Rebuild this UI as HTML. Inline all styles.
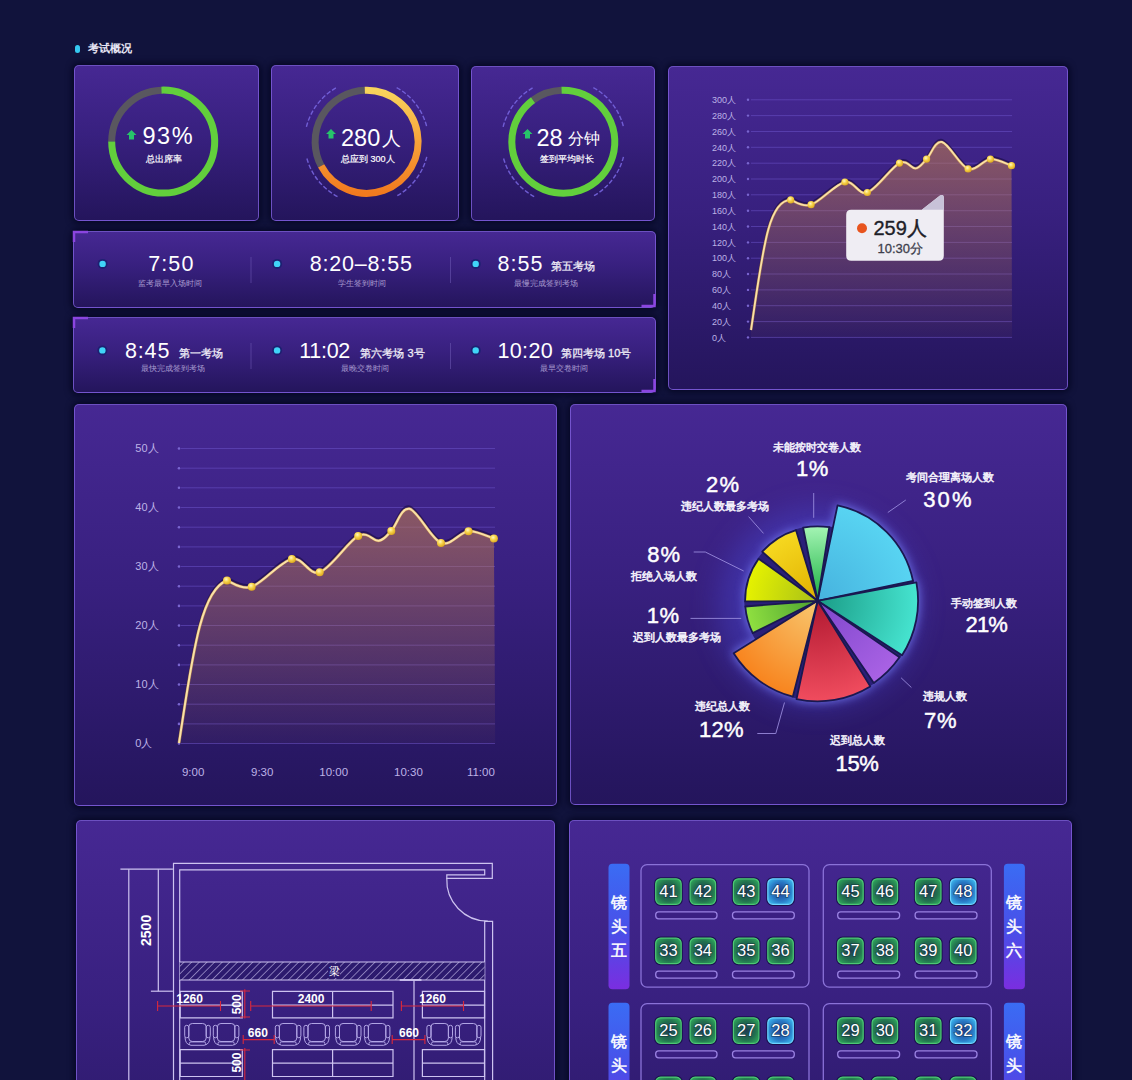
<!DOCTYPE html>
<html><head><meta charset="utf-8">
<style>
*{margin:0;padding:0;box-sizing:border-box}
html,body{width:1132px;height:1080px;overflow:hidden;background:#11133c;font-family:"Liberation Sans",sans-serif;color:#fff}
.p{position:absolute;border-radius:5px;background:linear-gradient(180deg,#462893 0%,#38207f 45%,#24155c 100%);border:1px solid rgba(132,100,225,.75);box-shadow:0 0 6px 2px rgba(3,4,30,.8)}
.t{position:absolute;white-space:nowrap;line-height:1}
svg{position:absolute;left:0;top:0}
svg text{font-family:"Liberation Sans",sans-serif}
</style></head><body>

<div style="position:absolute;left:75px;top:45px;width:5px;height:8px;border-radius:3px;background:#35c8f0"></div>
<div class="t" style="left:88px;top:42.5px;font-size:11px;font-weight:bold;color:#e8e6f4">考试概况</div>
<div class="p" style="left:74px;top:65px;width:185px;height:156px"></div>
<div class="p" style="left:271px;top:65px;width:188px;height:156px"></div>
<div class="p" style="left:471px;top:66px;width:184px;height:155px"></div>
<div class="p" style="left:668px;top:66px;width:400px;height:324px"></div>
<div class="p" style="left:73px;top:231px;width:583px;height:77px"></div>
<div class="p" style="left:73px;top:317px;width:583px;height:76px"></div>
<div class="p" style="left:74px;top:404px;width:483px;height:402px"></div>
<div class="p" style="left:570px;top:404px;width:497px;height:401px"></div>
<div class="p" style="left:76px;top:820px;width:479px;height:420px"></div>
<div class="p" style="left:569px;top:820px;width:503px;height:420px"></div>
<svg width="1132" height="1080" viewBox="0 0 1132 1080">
<defs>
<linearGradient id="gOr" x1="0" y1="0" x2="0" y2="1"><stop offset="0" stop-color="#f8d45c"/><stop offset="0.5" stop-color="#f7a23a"/><stop offset="1" stop-color="#f27a1e"/></linearGradient>
<linearGradient id="gFill" x1="0" y1="0" x2="0" y2="1"><stop offset="0" stop-color="#c88248" stop-opacity=".55"/><stop offset="1" stop-color="#c88248" stop-opacity=".04"/></linearGradient>
<radialGradient id="gDot" cx=".4" cy=".35" r=".7"><stop offset="0" stop-color="#fff6c0"/><stop offset=".45" stop-color="#f7d34a"/><stop offset="1" stop-color="#d9a21c"/></radialGradient>
<filter id="glow" x="-20%" y="-20%" width="140%" height="140%"><feGaussianBlur stdDeviation="1.2"/></filter>
</defs>
<path d="M111.70,141.60 A51.5,51.5 0 0 1 161.40,90.13" stroke="#59575f" stroke-width="7" fill="none"/>
<path d="M161.40,90.13 A51.5,51.5 0 1 1 111.70,141.60" stroke="#62cf3c" stroke-width="7" fill="none"/>
<path d="M321.13,165.98 A51.5,51.5 0 0 1 364.80,90.33" stroke="#59575f" stroke-width="7" fill="none"/>
<path d="M364.80,90.33 A51.5,51.5 0 1 1 321.13,165.98" stroke="url(#gOr)" stroke-width="7" fill="none"/>
<path d="M306.44,126.80 A62,62 0 0 1 336.54,87.57" stroke="#7a68e4" stroke-width="1.4" fill="none" stroke-dasharray="4.5 2" opacity=".85"/>
<path d="M396.66,87.57 A62,62 0 0 1 426.76,126.80" stroke="#7a68e4" stroke-width="1.4" fill="none" stroke-dasharray="4.5 2" opacity=".85"/>
<path d="M337.49,196.54 A62,62 0 0 1 306.44,156.80" stroke="#7a68e4" stroke-width="1.4" fill="none" stroke-dasharray="4.5 2" opacity=".85"/>
<path d="M426.76,156.80 A62,62 0 0 1 395.71,196.54" stroke="#7a68e4" stroke-width="1.4" fill="none" stroke-dasharray="4.5 2" opacity=".85"/>
<path d="M533.03,100.14 A51.5,51.5 0 0 1 561.50,90.33" stroke="#59575f" stroke-width="7" fill="none"/>
<path d="M561.50,90.33 A51.5,51.5 0 1 1 533.03,100.14" stroke="#62cf3c" stroke-width="7" fill="none"/>
<path d="M503.14,126.80 A62,62 0 0 1 533.24,87.57" stroke="#7a68e4" stroke-width="1.4" fill="none" stroke-dasharray="4.5 2" opacity=".85"/>
<path d="M593.36,87.57 A62,62 0 0 1 623.46,126.80" stroke="#7a68e4" stroke-width="1.4" fill="none" stroke-dasharray="4.5 2" opacity=".85"/>
<path d="M534.19,196.54 A62,62 0 0 1 503.14,156.80" stroke="#7a68e4" stroke-width="1.4" fill="none" stroke-dasharray="4.5 2" opacity=".85"/>
<path d="M623.46,156.80 A62,62 0 0 1 592.41,196.54" stroke="#7a68e4" stroke-width="1.4" fill="none" stroke-dasharray="4.5 2" opacity=".85"/>
<path d="M131.5,130 L136.5,135 L134.0,135 L134.0,139.5 L129.0,139.5 L129.0,135 L126.5,135 Z" fill="#27c46a"/>
<path d="M331,129 L336,134 L333.5,134 L333.5,138.5 L328.5,138.5 L328.5,134 L326,134 Z" fill="#27c46a"/>
<path d="M527.5,129 L532.5,134 L530.0,134 L530.0,138.5 L525.0,138.5 L525.0,134 L522.5,134 Z" fill="#27c46a"/>
<text x="142.5" y="144.3" font-size="23.5" fill="#fff" text-anchor="start" font-weight="normal" letter-spacing="1.5">93%</text>
<text x="146" y="162" font-size="9" fill="#fff" text-anchor="start" font-weight="normal" stroke="#fff" stroke-width="0.2">总出席率</text>
<text x="341" y="145.5" font-size="23.5" fill="#fff" text-anchor="start" font-weight="normal" >280</text>
<text x="381.5" y="144.5" font-size="19" fill="#fff" text-anchor="start" font-weight="normal" >人</text>
<text x="341" y="162" font-size="9" fill="#fff" text-anchor="start" font-weight="normal" stroke="#fff" stroke-width="0.2">总应到 300人</text>
<text x="536.5" y="145.5" font-size="23.5" fill="#fff" text-anchor="start" font-weight="normal" >28</text>
<text x="568" y="143.5" font-size="16" fill="#fff" text-anchor="start" font-weight="normal" >分钟</text>
<text x="540" y="162" font-size="8.6" fill="#fff" text-anchor="start" font-weight="normal" stroke="#fff" stroke-width="0.2">签到平均时长</text>
<circle cx="102.6" cy="263.9" r="5" fill="#16206e" opacity=".8"/>
<circle cx="102.6" cy="263.9" r="3.2" fill="#40d4f8"/>
<text x="148.2" y="271.0" font-size="21.5" fill="#fff" text-anchor="start" font-weight="normal" letter-spacing="1.1">7:50</text>
<text x="170.4" y="285.6" font-size="8.2" fill="#a99cd0" text-anchor="middle" font-weight="normal" >监考最早入场时间</text>
<circle cx="277.1" cy="263.9" r="5" fill="#16206e" opacity=".8"/>
<circle cx="277.1" cy="263.9" r="3.2" fill="#40d4f8"/>
<text x="309.8" y="271.0" font-size="21.5" fill="#fff" text-anchor="start" font-weight="normal" letter-spacing="0.8">8:20–8:55</text>
<text x="362" y="285.6" font-size="8.2" fill="#a99cd0" text-anchor="middle" font-weight="normal" >学生签到时间</text>
<circle cx="475.7" cy="263.9" r="5" fill="#16206e" opacity=".8"/>
<circle cx="475.7" cy="263.9" r="3.2" fill="#40d4f8"/>
<text x="497.6" y="271.0" font-size="21.5" fill="#fff" text-anchor="start" font-weight="normal" letter-spacing="1.0">8:55</text>
<text x="551.3" y="270.3" font-size="11" fill="#f0eef8" text-anchor="start" font-weight="normal" stroke="#f0eef8" stroke-width="0.28">第五考场</text>
<text x="546" y="285.6" font-size="8.2" fill="#a99cd0" text-anchor="middle" font-weight="normal" >最慢完成签到考场</text>
<circle cx="102.4" cy="350.4" r="5" fill="#16206e" opacity=".8"/>
<circle cx="102.4" cy="350.4" r="3.2" fill="#40d4f8"/>
<text x="124.9" y="357.5" font-size="21.5" fill="#fff" text-anchor="start" font-weight="normal" letter-spacing="0.9">8:45</text>
<text x="178.6" y="356.8" font-size="11" fill="#f0eef8" text-anchor="start" font-weight="normal" stroke="#f0eef8" stroke-width="0.28">第一考场</text>
<text x="173.2" y="371.2" font-size="8.2" fill="#a99cd0" text-anchor="middle" font-weight="normal" >最快完成签到考场</text>
<circle cx="277.1" cy="350.4" r="5" fill="#16206e" opacity=".8"/>
<circle cx="277.1" cy="350.4" r="3.2" fill="#40d4f8"/>
<text x="299.3" y="357.5" font-size="21.5" fill="#fff" text-anchor="start" font-weight="normal" letter-spacing="-0.3">11:02</text>
<text x="360.4" y="356.8" font-size="11" fill="#f0eef8" text-anchor="start" font-weight="normal" stroke="#f0eef8" stroke-width="0.28">第六考场 3号</text>
<text x="365.2" y="371.2" font-size="8.2" fill="#a99cd0" text-anchor="middle" font-weight="normal" >最晚交卷时间</text>
<circle cx="475.7" cy="350.4" r="5" fill="#16206e" opacity=".8"/>
<circle cx="475.7" cy="350.4" r="3.2" fill="#40d4f8"/>
<text x="497.6" y="357.5" font-size="21.5" fill="#fff" text-anchor="start" font-weight="normal" letter-spacing="0.3">10:20</text>
<text x="561" y="356.8" font-size="11" fill="#f0eef8" text-anchor="start" font-weight="normal" stroke="#f0eef8" stroke-width="0.28">第四考场 10号</text>
<text x="563.7" y="371.2" font-size="8.2" fill="#a99cd0" text-anchor="middle" font-weight="normal" >最早交卷时间</text>
<line x1="251" y1="257" x2="251" y2="283" stroke="#6a55b0" stroke-width="1" opacity=".6"/>
<line x1="251" y1="343" x2="251" y2="369" stroke="#6a55b0" stroke-width="1" opacity=".6"/>
<line x1="450.5" y1="257" x2="450.5" y2="283" stroke="#6a55b0" stroke-width="1" opacity=".6"/>
<line x1="450.5" y1="343" x2="450.5" y2="369" stroke="#6a55b0" stroke-width="1" opacity=".6"/>
<path d="M74,242 L74,232 L88,232" stroke="#8b45e0" stroke-width="2.5" fill="none"/>
<path d="M74,328 L74,318 L88,318" stroke="#8b45e0" stroke-width="2.5" fill="none"/>
<path d="M641.5,306 L654.5,306 L654.5,294" stroke="#8b45e0" stroke-width="2.5" fill="none"/>
<path d="M641.5,391 L654.5,391 L654.5,379" stroke="#8b45e0" stroke-width="2.5" fill="none"/>
<line x1="751" y1="99.8" x2="1012" y2="99.8" stroke="#6a52c8" stroke-width="1" opacity=".55"/>
<circle cx="748" cy="99.8" r="1.2" fill="#7a66d0"/>
<text x="712" y="103.0" font-size="9" fill="#bdb2e6" text-anchor="start" font-weight="normal" >300人</text>
<line x1="751" y1="115.6" x2="1012" y2="115.6" stroke="#6a52c8" stroke-width="1" opacity=".55"/>
<circle cx="748" cy="115.6" r="1.2" fill="#7a66d0"/>
<text x="712" y="118.84" font-size="9" fill="#bdb2e6" text-anchor="start" font-weight="normal" >280人</text>
<line x1="751" y1="131.5" x2="1012" y2="131.5" stroke="#6a52c8" stroke-width="1" opacity=".55"/>
<circle cx="748" cy="131.5" r="1.2" fill="#7a66d0"/>
<text x="712" y="134.67999999999998" font-size="9" fill="#bdb2e6" text-anchor="start" font-weight="normal" >260人</text>
<line x1="751" y1="147.3" x2="1012" y2="147.3" stroke="#6a52c8" stroke-width="1" opacity=".55"/>
<circle cx="748" cy="147.3" r="1.2" fill="#7a66d0"/>
<text x="712" y="150.51999999999998" font-size="9" fill="#bdb2e6" text-anchor="start" font-weight="normal" >240人</text>
<line x1="751" y1="163.2" x2="1012" y2="163.2" stroke="#6a52c8" stroke-width="1" opacity=".55"/>
<circle cx="748" cy="163.2" r="1.2" fill="#7a66d0"/>
<text x="712" y="166.35999999999999" font-size="9" fill="#bdb2e6" text-anchor="start" font-weight="normal" >220人</text>
<line x1="751" y1="179.0" x2="1012" y2="179.0" stroke="#6a52c8" stroke-width="1" opacity=".55"/>
<circle cx="748" cy="179.0" r="1.2" fill="#7a66d0"/>
<text x="712" y="182.2" font-size="9" fill="#bdb2e6" text-anchor="start" font-weight="normal" >200人</text>
<line x1="751" y1="194.8" x2="1012" y2="194.8" stroke="#6a52c8" stroke-width="1" opacity=".55"/>
<circle cx="748" cy="194.8" r="1.2" fill="#7a66d0"/>
<text x="712" y="198.03999999999996" font-size="9" fill="#bdb2e6" text-anchor="start" font-weight="normal" >180人</text>
<line x1="751" y1="210.7" x2="1012" y2="210.7" stroke="#6a52c8" stroke-width="1" opacity=".55"/>
<circle cx="748" cy="210.7" r="1.2" fill="#7a66d0"/>
<text x="712" y="213.88" font-size="9" fill="#bdb2e6" text-anchor="start" font-weight="normal" >160人</text>
<line x1="751" y1="226.5" x2="1012" y2="226.5" stroke="#6a52c8" stroke-width="1" opacity=".55"/>
<circle cx="748" cy="226.5" r="1.2" fill="#7a66d0"/>
<text x="712" y="229.71999999999997" font-size="9" fill="#bdb2e6" text-anchor="start" font-weight="normal" >140人</text>
<line x1="751" y1="242.4" x2="1012" y2="242.4" stroke="#6a52c8" stroke-width="1" opacity=".55"/>
<circle cx="748" cy="242.4" r="1.2" fill="#7a66d0"/>
<text x="712" y="245.56" font-size="9" fill="#bdb2e6" text-anchor="start" font-weight="normal" >120人</text>
<line x1="751" y1="258.2" x2="1012" y2="258.2" stroke="#6a52c8" stroke-width="1" opacity=".55"/>
<circle cx="748" cy="258.2" r="1.2" fill="#7a66d0"/>
<text x="712" y="261.4" font-size="9" fill="#bdb2e6" text-anchor="start" font-weight="normal" >100人</text>
<line x1="751" y1="274.0" x2="1012" y2="274.0" stroke="#6a52c8" stroke-width="1" opacity=".55"/>
<circle cx="748" cy="274.0" r="1.2" fill="#7a66d0"/>
<text x="712" y="277.24" font-size="9" fill="#bdb2e6" text-anchor="start" font-weight="normal" >80人</text>
<line x1="751" y1="289.9" x2="1012" y2="289.9" stroke="#6a52c8" stroke-width="1" opacity=".55"/>
<circle cx="748" cy="289.9" r="1.2" fill="#7a66d0"/>
<text x="712" y="293.08" font-size="9" fill="#bdb2e6" text-anchor="start" font-weight="normal" >60人</text>
<line x1="751" y1="305.7" x2="1012" y2="305.7" stroke="#6a52c8" stroke-width="1" opacity=".55"/>
<circle cx="748" cy="305.7" r="1.2" fill="#7a66d0"/>
<text x="712" y="308.91999999999996" font-size="9" fill="#bdb2e6" text-anchor="start" font-weight="normal" >40人</text>
<line x1="751" y1="321.6" x2="1012" y2="321.6" stroke="#6a52c8" stroke-width="1" opacity=".55"/>
<circle cx="748" cy="321.6" r="1.2" fill="#7a66d0"/>
<text x="712" y="324.76" font-size="9" fill="#bdb2e6" text-anchor="start" font-weight="normal" >20人</text>
<line x1="751" y1="337.4" x2="1012" y2="337.4" stroke="#6a52c8" stroke-width="1" opacity=".55"/>
<circle cx="748" cy="337.4" r="1.2" fill="#7a66d0"/>
<text x="712" y="340.59999999999997" font-size="9" fill="#bdb2e6" text-anchor="start" font-weight="normal" >0人</text>
<path d="M751,330 C763,250 768,200 790.7,199.8  C794.10,200.62 802.07,207.67 811.10,204.70 C820.13,201.73 835.53,184.03 844.90,182.00 C854.27,179.97 858.20,195.65 867.30,192.50 C876.40,189.35 891.45,167.12 899.50,163.10 C907.55,159.08 911.08,169.07 915.60,168.40 C920.12,167.73 922.20,163.50 926.60,159.10 C931.00,154.70 935.08,140.37 942.00,142.00 C948.92,143.63 960.03,166.05 968.10,168.90 C976.17,171.75 983.17,159.63 990.40,159.10 C997.63,158.57 1007.98,164.60 1011.50,165.70 L1012,337.4 L751,337.4 Z" fill="url(#gFill)"/>
<path d="M751,330 C763,250 768,200 790.7,199.8  C794.10,200.62 802.07,207.67 811.10,204.70 C820.13,201.73 835.53,184.03 844.90,182.00 C854.27,179.97 858.20,195.65 867.30,192.50 C876.40,189.35 891.45,167.12 899.50,163.10 C907.55,159.08 911.08,169.07 915.60,168.40 C920.12,167.73 922.20,163.50 926.60,159.10 C931.00,154.70 935.08,140.37 942.00,142.00 C948.92,143.63 960.03,166.05 968.10,168.90 C976.17,171.75 983.17,159.63 990.40,159.10 C997.63,158.57 1007.98,164.60 1011.50,165.70" stroke="#140a3c" stroke-width="2.6" fill="none" opacity=".55" transform="translate(0,-1.8)"/>
<path d="M751,330 C763,250 768,200 790.7,199.8  C794.10,200.62 802.07,207.67 811.10,204.70 C820.13,201.73 835.53,184.03 844.90,182.00 C854.27,179.97 858.20,195.65 867.30,192.50 C876.40,189.35 891.45,167.12 899.50,163.10 C907.55,159.08 911.08,169.07 915.60,168.40 C920.12,167.73 922.20,163.50 926.60,159.10 C931.00,154.70 935.08,140.37 942.00,142.00 C948.92,143.63 960.03,166.05 968.10,168.90 C976.17,171.75 983.17,159.63 990.40,159.10 C997.63,158.57 1007.98,164.60 1011.50,165.70" stroke="#e9a84a" stroke-width="2.8" fill="none" opacity=".6"/>
<path d="M751,330 C763,250 768,200 790.7,199.8  C794.10,200.62 802.07,207.67 811.10,204.70 C820.13,201.73 835.53,184.03 844.90,182.00 C854.27,179.97 858.20,195.65 867.30,192.50 C876.40,189.35 891.45,167.12 899.50,163.10 C907.55,159.08 911.08,169.07 915.60,168.40 C920.12,167.73 922.20,163.50 926.60,159.10 C931.00,154.70 935.08,140.37 942.00,142.00 C948.92,143.63 960.03,166.05 968.10,168.90 C976.17,171.75 983.17,159.63 990.40,159.10 C997.63,158.57 1007.98,164.60 1011.50,165.70" stroke="#fae2a6" stroke-width="1.8" fill="none"/>
<circle cx="790.7" cy="199.8" r="3.6" fill="url(#gDot)"/>
<circle cx="811.1" cy="204.7" r="3.6" fill="url(#gDot)"/>
<circle cx="844.9" cy="182" r="3.6" fill="url(#gDot)"/>
<circle cx="867.3" cy="192.5" r="3.6" fill="url(#gDot)"/>
<circle cx="899.5" cy="163.1" r="3.6" fill="url(#gDot)"/>
<circle cx="926.6" cy="159.1" r="3.6" fill="url(#gDot)"/>
<circle cx="968.1" cy="168.9" r="3.6" fill="url(#gDot)"/>
<circle cx="990.4" cy="159.1" r="3.6" fill="url(#gDot)"/>
<circle cx="1011.5" cy="165.7" r="3.6" fill="url(#gDot)"/>
<path d="M851,209.7 L921.8,209.7 L940,195.5 Q943.8,193.5 943.8,198 L943.8,255.7 Q943.8,260.7 938.8,260.7 L851.2,260.7 Q846.2,260.7 846.2,255.7 L846.2,214.7 Q846.2,209.7 851.2,209.7 Z" fill="#efedf3"/>
<path d="M921.8,209.7 L940,195.5 Q943.8,193.5 943.8,198 L943.8,209.7 Z" fill="#c8c2d8"/>
<circle cx="862" cy="228.2" r="5" fill="#e8541e"/>
<text x="873.5" y="235.2" font-size="20" fill="#1e1e28" text-anchor="start" font-weight="normal" stroke="#1e1e28" stroke-width="0.35">259人</text>
<text x="877.5" y="252.5" font-size="13" fill="#3e3e4c" text-anchor="start" font-weight="normal" stroke="#3e3e4c" stroke-width="0.3">10:30分</text>
<line x1="181" y1="448.5" x2="495" y2="448.5" stroke="#6a52c8" stroke-width="1" opacity=".55"/>
<circle cx="179" cy="448.5" r="1.3" fill="#7a66d0"/>
<line x1="181" y1="468.2" x2="495" y2="468.2" stroke="#6a52c8" stroke-width="1" opacity=".55"/>
<circle cx="179" cy="468.2" r="1.3" fill="#7a66d0"/>
<line x1="181" y1="487.8" x2="495" y2="487.8" stroke="#6a52c8" stroke-width="1" opacity=".55"/>
<circle cx="179" cy="487.8" r="1.3" fill="#7a66d0"/>
<line x1="181" y1="507.5" x2="495" y2="507.5" stroke="#6a52c8" stroke-width="1" opacity=".55"/>
<circle cx="179" cy="507.5" r="1.3" fill="#7a66d0"/>
<line x1="181" y1="527.2" x2="495" y2="527.2" stroke="#6a52c8" stroke-width="1" opacity=".55"/>
<circle cx="179" cy="527.2" r="1.3" fill="#7a66d0"/>
<line x1="181" y1="546.9" x2="495" y2="546.9" stroke="#6a52c8" stroke-width="1" opacity=".55"/>
<circle cx="179" cy="546.9" r="1.3" fill="#7a66d0"/>
<line x1="181" y1="566.5" x2="495" y2="566.5" stroke="#6a52c8" stroke-width="1" opacity=".55"/>
<circle cx="179" cy="566.5" r="1.3" fill="#7a66d0"/>
<line x1="181" y1="586.2" x2="495" y2="586.2" stroke="#6a52c8" stroke-width="1" opacity=".55"/>
<circle cx="179" cy="586.2" r="1.3" fill="#7a66d0"/>
<line x1="181" y1="605.9" x2="495" y2="605.9" stroke="#6a52c8" stroke-width="1" opacity=".55"/>
<circle cx="179" cy="605.9" r="1.3" fill="#7a66d0"/>
<line x1="181" y1="625.5" x2="495" y2="625.5" stroke="#6a52c8" stroke-width="1" opacity=".55"/>
<circle cx="179" cy="625.5" r="1.3" fill="#7a66d0"/>
<line x1="181" y1="645.2" x2="495" y2="645.2" stroke="#6a52c8" stroke-width="1" opacity=".55"/>
<circle cx="179" cy="645.2" r="1.3" fill="#7a66d0"/>
<line x1="181" y1="664.9" x2="495" y2="664.9" stroke="#6a52c8" stroke-width="1" opacity=".55"/>
<circle cx="179" cy="664.9" r="1.3" fill="#7a66d0"/>
<line x1="181" y1="684.5" x2="495" y2="684.5" stroke="#6a52c8" stroke-width="1" opacity=".55"/>
<circle cx="179" cy="684.5" r="1.3" fill="#7a66d0"/>
<line x1="181" y1="704.2" x2="495" y2="704.2" stroke="#6a52c8" stroke-width="1" opacity=".55"/>
<circle cx="179" cy="704.2" r="1.3" fill="#7a66d0"/>
<line x1="181" y1="723.9" x2="495" y2="723.9" stroke="#6a52c8" stroke-width="1" opacity=".55"/>
<circle cx="179" cy="723.9" r="1.3" fill="#7a66d0"/>
<line x1="181" y1="743.5" x2="495" y2="743.5" stroke="#6a52c8" stroke-width="1" opacity=".55"/>
<circle cx="179" cy="743.5" r="1.3" fill="#7a66d0"/>
<text x="135.3" y="452.3" font-size="11" fill="#bdb2e6" text-anchor="start" font-weight="normal" >50人</text>
<text x="135.3" y="511.3" font-size="11" fill="#bdb2e6" text-anchor="start" font-weight="normal" >40人</text>
<text x="135.3" y="570.3" font-size="11" fill="#bdb2e6" text-anchor="start" font-weight="normal" >30人</text>
<text x="135.3" y="629.3" font-size="11" fill="#bdb2e6" text-anchor="start" font-weight="normal" >20人</text>
<text x="135.3" y="688.3" font-size="11" fill="#bdb2e6" text-anchor="start" font-weight="normal" >10人</text>
<text x="135.3" y="747.3" font-size="11" fill="#bdb2e6" text-anchor="start" font-weight="normal" >0人</text>
<text x="193.1" y="776" font-size="11.5" fill="#bdb2e6" text-anchor="middle" font-weight="normal" >9:00</text>
<text x="262.2" y="776" font-size="11.5" fill="#bdb2e6" text-anchor="middle" font-weight="normal" >9:30</text>
<text x="333.7" y="776" font-size="11.5" fill="#bdb2e6" text-anchor="middle" font-weight="normal" >10:00</text>
<text x="408.4" y="776" font-size="11.5" fill="#bdb2e6" text-anchor="middle" font-weight="normal" >10:30</text>
<text x="480.9" y="776" font-size="11.5" fill="#bdb2e6" text-anchor="middle" font-weight="normal" >11:00</text>
<path d="M179,743 C192,660 200,590 227,580.5  C231.12,581.53 240.88,590.30 251.70,586.70 C262.52,583.10 280.57,561.32 291.90,558.90 C303.23,556.48 308.65,576.03 319.70,572.20 C330.75,568.37 348.37,541.13 358.20,535.90 C368.03,530.67 373.18,541.63 378.70,540.80 C384.22,539.97 386.15,536.23 391.30,530.90 C396.45,525.57 401.32,506.80 409.60,508.80 C417.88,510.80 431.18,539.17 441.00,542.90 C450.82,546.63 459.68,531.92 468.50,531.20 C477.32,530.48 489.67,537.37 493.90,538.60 L495.2,743.5 L179,743.5 Z" fill="url(#gFill)"/>
<path d="M179,743 C192,660 200,590 227,580.5  C231.12,581.53 240.88,590.30 251.70,586.70 C262.52,583.10 280.57,561.32 291.90,558.90 C303.23,556.48 308.65,576.03 319.70,572.20 C330.75,568.37 348.37,541.13 358.20,535.90 C368.03,530.67 373.18,541.63 378.70,540.80 C384.22,539.97 386.15,536.23 391.30,530.90 C396.45,525.57 401.32,506.80 409.60,508.80 C417.88,510.80 431.18,539.17 441.00,542.90 C450.82,546.63 459.68,531.92 468.50,531.20 C477.32,530.48 489.67,537.37 493.90,538.60" stroke="#140a3c" stroke-width="2.8" fill="none" opacity=".55" transform="translate(0,-2)"/>
<path d="M179,743 C192,660 200,590 227,580.5  C231.12,581.53 240.88,590.30 251.70,586.70 C262.52,583.10 280.57,561.32 291.90,558.90 C303.23,556.48 308.65,576.03 319.70,572.20 C330.75,568.37 348.37,541.13 358.20,535.90 C368.03,530.67 373.18,541.63 378.70,540.80 C384.22,539.97 386.15,536.23 391.30,530.90 C396.45,525.57 401.32,506.80 409.60,508.80 C417.88,510.80 431.18,539.17 441.00,542.90 C450.82,546.63 459.68,531.92 468.50,531.20 C477.32,530.48 489.67,537.37 493.90,538.60" stroke="#e9a84a" stroke-width="3" fill="none" opacity=".6"/>
<path d="M179,743 C192,660 200,590 227,580.5  C231.12,581.53 240.88,590.30 251.70,586.70 C262.52,583.10 280.57,561.32 291.90,558.90 C303.23,556.48 308.65,576.03 319.70,572.20 C330.75,568.37 348.37,541.13 358.20,535.90 C368.03,530.67 373.18,541.63 378.70,540.80 C384.22,539.97 386.15,536.23 391.30,530.90 C396.45,525.57 401.32,506.80 409.60,508.80 C417.88,510.80 431.18,539.17 441.00,542.90 C450.82,546.63 459.68,531.92 468.50,531.20 C477.32,530.48 489.67,537.37 493.90,538.60" stroke="#fae2a6" stroke-width="2" fill="none"/>
<circle cx="227" cy="580.5" r="4" fill="url(#gDot)"/>
<circle cx="251.7" cy="586.7" r="4" fill="url(#gDot)"/>
<circle cx="291.9" cy="558.9" r="4" fill="url(#gDot)"/>
<circle cx="319.7" cy="572.2" r="4" fill="url(#gDot)"/>
<circle cx="358.2" cy="535.9" r="4" fill="url(#gDot)"/>
<circle cx="391.3" cy="530.9" r="4" fill="url(#gDot)"/>
<circle cx="441" cy="542.9" r="4" fill="url(#gDot)"/>
<circle cx="468.5" cy="531.2" r="4" fill="url(#gDot)"/>
<circle cx="493.9" cy="538.6" r="4" fill="url(#gDot)"/>
<defs><filter id="pglow" x="-50%" y="-50%" width="200%" height="200%"><feGaussianBlur stdDeviation="14"/></filter></defs>
<circle cx="817.6" cy="606.8" r="100" fill="#4a48d8" opacity=".4" filter="url(#pglow)"/>
<defs><filter id="pg2" x="-30%" y="-30%" width="160%" height="160%"><feGaussianBlur stdDeviation="5"/></filter></defs>
<g filter="url(#pg2)" opacity=".75">
<path d="M817.60,600.80 L836.15,503.55 A99.0,99.0 0 0 1 914.85,582.25 Z" fill="#7c84ff"/>
<path d="M817.60,600.80 L917.55,580.46 A102.0,102.0 0 0 1 902.36,657.54 Z" fill="#7c84ff"/>
<path d="M817.60,600.80 L901.73,656.69 A101.0,101.0 0 0 1 873.20,685.12 Z" fill="#7c84ff"/>
<path d="M817.60,600.80 L872.55,686.73 A102.0,102.0 0 0 1 794.48,700.15 Z" fill="#7c84ff"/>
<path d="M817.60,600.80 L794.14,698.52 A100.5,100.5 0 0 1 731.45,652.56 Z" fill="#7c84ff"/>
<path d="M817.60,600.80 L751.96,634.97 A74.0,74.0 0 0 1 743.74,605.32 Z" fill="#7c84ff"/>
<path d="M817.60,600.80 L743.63,602.74 A74.0,74.0 0 0 1 758.11,556.78 Z" fill="#7c84ff"/>
<path d="M817.60,600.80 L760.19,551.77 A75.5,75.5 0 0 1 796.79,528.22 Z" fill="#7c84ff"/>
<path d="M817.60,600.80 L801.54,526.52 A76.0,76.0 0 0 1 830.80,525.95 Z" fill="#7c84ff"/>
</g>
<path d="M817.60,600.80 L913.64,579.86 A98.3,98.3 0 0 1 914.41,583.73 Z" fill="#2a1f78"/>
<path d="M817.60,600.80 L902.38,654.40 A100.3,100.3 0 0 1 899.66,658.47 Z" fill="#2a1f78"/>
<path d="M817.60,600.80 L874.99,683.06 A100.3,100.3 0 0 1 869.41,686.68 Z" fill="#2a1f78"/>
<path d="M817.60,600.80 L797.53,698.56 A99.8,99.8 0 0 1 791.77,697.20 Z" fill="#2a1f78"/>
<path d="M817.60,600.80 L755.78,640.18 A73.3,73.3 0 0 1 751.72,632.93 Z" fill="#2a1f78"/>
<path d="M817.60,600.80 L744.58,607.19 A73.3,73.3 0 0 1 744.30,600.80 Z" fill="#2a1f78"/>
<path d="M817.60,600.80 L757.56,558.76 A73.3,73.3 0 0 1 763.13,551.75 Z" fill="#2a1f78"/>
<path d="M817.60,600.80 L795.11,529.46 A74.8,74.8 0 0 1 803.71,527.30 Z" fill="#2a1f78"/>
<path d="M817.60,600.80 L828.73,526.33 A75.3,75.3 0 0 1 833.64,527.23 Z" fill="#2a1f78"/>
<defs><radialGradient id="ps0" gradientUnits="userSpaceOnUse" cx="817.6" cy="600.8" r="97.5"><stop offset="0" stop-color="#46b2de"/><stop offset="1" stop-color="#58d4f2"/></radialGradient></defs>
<path d="M817.60,600.80 L837.54,505.36 A97.5,97.5 0 0 1 913.04,580.86 Z" fill="url(#ps0)" stroke="#1a1850" stroke-width="1.8" stroke-linejoin="round"/>
<defs><radialGradient id="ps1" gradientUnits="userSpaceOnUse" cx="817.6" cy="600.8" r="100.5"><stop offset="0" stop-color="#1a9c86"/><stop offset="1" stop-color="#46e4d0"/></radialGradient></defs>
<path d="M817.60,600.80 L916.42,582.49 A100.5,100.5 0 0 1 902.08,655.24 Z" fill="url(#ps1)" stroke="#1a1850" stroke-width="1.8" stroke-linejoin="round"/>
<defs><radialGradient id="ps2" gradientUnits="userSpaceOnUse" cx="817.6" cy="600.8" r="99.5"><stop offset="0" stop-color="#7e46cc"/><stop offset="1" stop-color="#a962e4"/></radialGradient></defs>
<path d="M817.60,600.80 L899.50,657.30 A99.5,99.5 0 0 1 873.81,682.90 Z" fill="url(#ps2)" stroke="#1a1850" stroke-width="1.8" stroke-linejoin="round"/>
<defs><radialGradient id="ps3" gradientUnits="userSpaceOnUse" cx="817.6" cy="600.8" r="100.5"><stop offset="0" stop-color="#b01830"/><stop offset="1" stop-color="#f04c5e"/></radialGradient></defs>
<path d="M817.60,600.80 L870.26,686.40 A100.5,100.5 0 0 1 796.53,699.07 Z" fill="url(#ps3)" stroke="#1a1850" stroke-width="1.8" stroke-linejoin="round"/>
<defs><radialGradient id="ps4" gradientUnits="userSpaceOnUse" cx="817.6" cy="600.8" r="99"><stop offset="0" stop-color="#f8c870"/><stop offset="1" stop-color="#f8841e"/></radialGradient></defs>
<path d="M817.60,600.80 L792.81,696.65 A99,99 0 0 1 733.64,653.26 Z" fill="url(#ps4)" stroke="#1a1850" stroke-width="1.8" stroke-linejoin="round"/>
<defs><radialGradient id="ps5" gradientUnits="userSpaceOnUse" cx="817.6" cy="600.8" r="72.5"><stop offset="0" stop-color="#4aa030"/><stop offset="1" stop-color="#90e040"/></radialGradient></defs>
<path d="M817.60,600.80 L752.72,633.15 A72.5,72.5 0 0 1 745.32,606.49 Z" fill="url(#ps5)" stroke="#1a1850" stroke-width="1.8" stroke-linejoin="round"/>
<defs><radialGradient id="ps6" gradientUnits="userSpaceOnUse" cx="817.6" cy="600.8" r="72.5"><stop offset="0" stop-color="#a8c018"/><stop offset="1" stop-color="#e6f200"/></radialGradient></defs>
<path d="M817.60,600.80 L745.10,601.43 A72.5,72.5 0 0 1 758.58,558.70 Z" fill="url(#ps6)" stroke="#1a1850" stroke-width="1.8" stroke-linejoin="round"/>
<defs><radialGradient id="ps7" gradientUnits="userSpaceOnUse" cx="817.6" cy="600.8" r="74"><stop offset="0" stop-color="#e0b000"/><stop offset="1" stop-color="#f6d820"/></radialGradient></defs>
<path d="M817.60,600.80 L762.18,551.77 A74,74 0 0 1 795.96,530.03 Z" fill="url(#ps7)" stroke="#1a1850" stroke-width="1.8" stroke-linejoin="round"/>
<defs><radialGradient id="ps8" gradientUnits="userSpaceOnUse" cx="817.6" cy="600.8" r="74.5"><stop offset="0" stop-color="#18b040"/><stop offset="1" stop-color="#a4f4b4"/></radialGradient></defs>
<path d="M817.60,600.80 L803.13,527.72 A74.5,74.5 0 0 1 829.25,527.22 Z" fill="url(#ps8)" stroke="#1a1850" stroke-width="1.8" stroke-linejoin="round"/>
<path d="M813.7,493 L813.7,517.8" stroke="#9d8fe0" stroke-width="1" fill="none" opacity=".85"/>
<path d="M748.6,516.6 L763.5,533.4" stroke="#9d8fe0" stroke-width="1" fill="none" opacity=".85"/>
<path d="M693.7,552 L705.3,552 L743.7,571" stroke="#9d8fe0" stroke-width="1" fill="none" opacity=".85"/>
<path d="M690.5,618.4 L741.2,618.4" stroke="#9d8fe0" stroke-width="1" fill="none" opacity=".85"/>
<path d="M757.3,733.5 L775.8,733.5 L784.5,702.5" stroke="#9d8fe0" stroke-width="1" fill="none" opacity=".85"/>
<path d="M887.8,512.5 L905.8,500" stroke="#9d8fe0" stroke-width="1" fill="none" opacity=".85"/>
<path d="M901.1,677.8 L911.4,687.5" stroke="#9d8fe0" stroke-width="1" fill="none" opacity=".85"/>
<text x="816.6" y="450.7" font-size="11" fill="#f2f0fa" text-anchor="middle" font-weight="normal" stroke="#f2f0fa" stroke-width="0.55">未能按时交卷人数</text>
<text x="812.4" y="475.8" font-size="22" fill="#ffffff" text-anchor="middle" font-weight="normal" letter-spacing="0.5" stroke="#fff" stroke-width="0.45">1%</text>
<text x="725.1" y="510" font-size="11" fill="#f2f0fa" text-anchor="middle" font-weight="normal" stroke="#f2f0fa" stroke-width="0.55">违纪人数最多考场</text>
<text x="723.2" y="491.8" font-size="22" fill="#ffffff" text-anchor="middle" font-weight="normal" letter-spacing="1.4" stroke="#fff" stroke-width="0.45">2%</text>
<text x="663.9" y="579.8" font-size="11" fill="#f2f0fa" text-anchor="middle" font-weight="normal" stroke="#f2f0fa" stroke-width="0.55">拒绝入场人数</text>
<text x="664.3" y="562.3" font-size="22" fill="#ffffff" text-anchor="middle" font-weight="normal" letter-spacing="1.2" stroke="#fff" stroke-width="0.45">8%</text>
<text x="676.6" y="641.2" font-size="11" fill="#f2f0fa" text-anchor="middle" font-weight="normal" stroke="#f2f0fa" stroke-width="0.55">迟到人数最多考场</text>
<text x="663.1" y="622.6" font-size="22" fill="#ffffff" text-anchor="middle" font-weight="normal" letter-spacing="0.5" stroke="#fff" stroke-width="0.45">1%</text>
<text x="722" y="710.2" font-size="11" fill="#f2f0fa" text-anchor="middle" font-weight="normal" stroke="#f2f0fa" stroke-width="0.55">违纪总人数</text>
<text x="721.4" y="737.2" font-size="22" fill="#ffffff" text-anchor="middle" font-weight="normal" letter-spacing="0.2" stroke="#fff" stroke-width="0.45">12%</text>
<text x="857.2" y="743.6" font-size="11" fill="#f2f0fa" text-anchor="middle" font-weight="normal" stroke="#f2f0fa" stroke-width="0.55">迟到总人数</text>
<text x="857" y="770.6" font-size="22" fill="#ffffff" text-anchor="middle" font-weight="normal" letter-spacing="-0.4" stroke="#fff" stroke-width="0.45">15%</text>
<text x="950.2" y="480.8" font-size="11" fill="#f2f0fa" text-anchor="middle" font-weight="normal" stroke="#f2f0fa" stroke-width="0.55">考间合理离场人数</text>
<text x="948.4" y="507" font-size="22" fill="#ffffff" text-anchor="middle" font-weight="normal" letter-spacing="2.1" stroke="#fff" stroke-width="0.45">30%</text>
<text x="983.6" y="607.2" font-size="11" fill="#f2f0fa" text-anchor="middle" font-weight="normal" stroke="#f2f0fa" stroke-width="0.55">手动签到人数</text>
<text x="986.3" y="632" font-size="22" fill="#ffffff" text-anchor="middle" font-weight="normal" letter-spacing="-0.75" stroke="#fff" stroke-width="0.45">21%</text>
<text x="944.7" y="700.2" font-size="11" fill="#f2f0fa" text-anchor="middle" font-weight="normal" stroke="#f2f0fa" stroke-width="0.55">违规人数</text>
<text x="940.7" y="727.8" font-size="22" fill="#ffffff" text-anchor="middle" font-weight="normal" letter-spacing="0.7" stroke="#fff" stroke-width="0.45">7%</text>
<path d="M120.4,869.2 H172.9" stroke="#cdc3f0" stroke-width="1.2" fill="none" opacity="1"/>
<path d="M128.8,869.2 V1080" stroke="#cdc3f0" stroke-width="1.2" fill="none" opacity="1"/>
<path d="M158.3,869.2 V991.2" stroke="#cdc3f0" stroke-width="1.2" fill="none" opacity="1"/>
<path d="M150.9,991.2 H172.9" stroke="#cdc3f0" stroke-width="1.2" fill="none" opacity="1"/>
<text x="0" y="0" font-size="14" font-weight="bold" fill="#fff" text-anchor="middle" transform="translate(150.6,930.4) rotate(-90)">2500</text>
<path d="M173.5,1080 V863.3 H492.3 V878.3 H446.8 V874.8 H484.7 V869.9 H179.7 V1080" stroke="#cdc3f0" stroke-width="1.2" fill="none" opacity="1"/>
<path d="M446.8,878.3 A41,41 0 0 0 487.8,921.2" stroke="#cdc3f0" stroke-width="1.2" fill="none" opacity="1"/>
<path d="M484.7,1080 V921.3 H492.6 V1080" stroke="#cdc3f0" stroke-width="1.2" fill="none" opacity="1"/>
<defs><pattern id="hatch" patternUnits="userSpaceOnUse" width="5.4" height="5.4" patternTransform="rotate(45)"><line x1="0" y1="0" x2="0" y2="5.4" stroke="#cdc3f0" stroke-width="1.1"/></pattern></defs>
<rect x="179.7" y="962" width="304.9" height="18" fill="#2c1a6e"/>
<rect x="179.7" y="962" width="304.9" height="18" fill="url(#hatch)"/>
<path d="M179.7,962 H484.7 M179.7,980 H484.7" stroke="#cdc3f0" stroke-width="1.2" fill="none" opacity="1"/>
<rect x="328" y="964" width="12" height="14" fill="#2c1a6e"/>
<text x="334.1" y="975" font-size="11" fill="#fff" text-anchor="middle" font-weight="normal" >梁</text>
<path d="M180.2,991.4 H242.3 V1017.8 H180.2 Z M180.2,1005.2 H242.3" stroke="#cdc3f0" stroke-width="1.2" fill="none" opacity="1"/>
<path d="M272.5,991.4 H393 V1017.8 H272.5 Z M272.5,1005.2 H393" stroke="#cdc3f0" stroke-width="1.2" fill="none" opacity="1"/>
<path d="M332.6,991.4 V1017.8" stroke="#cdc3f0" stroke-width="1.2" fill="none" opacity="1"/>
<path d="M422.4,991.4 H484.5 V1017.8 H422.4 Z M422.4,1005.2 H484.5" stroke="#cdc3f0" stroke-width="1.2" fill="none" opacity="1"/>
<path d="M180.2,1049.7 H242.3 V1076.5 H180.2 Z M180.2,1063.1 H242.3" stroke="#cdc3f0" stroke-width="1.2" fill="none" opacity="1"/>
<path d="M272.5,1049.7 H393 V1076.5 H272.5 Z M272.5,1063.1 H393" stroke="#cdc3f0" stroke-width="1.2" fill="none" opacity="1"/>
<path d="M332.6,1049.7 V1076.5" stroke="#cdc3f0" stroke-width="1.2" fill="none" opacity="1"/>
<path d="M422.4,1049.7 H484.5 V1076.5 H422.4 Z M422.4,1063.1 H484.5" stroke="#cdc3f0" stroke-width="1.2" fill="none" opacity="1"/>
<path d="M414,980 V1080" stroke="#cdc3f0" stroke-width="1.2" fill="none" opacity="1"/>
<path d="M399.7,980 H421.5" stroke="#cdc3f0" stroke-width="1.8" fill="none" opacity="1"/>
<g transform="translate(184.4,1023.3)" stroke="#b3a6e6" stroke-width="1" fill="none"><rect x="4.4" y="0.2" width="17.4" height="18" rx="3.5"/><rect x="0.3" y="2" width="4.1" height="12.5" rx="2"/><rect x="21.8" y="2" width="4.1" height="12.5" rx="2"/><path d="M0.6,14 Q1,20.5 5.2,21.6 M25.6,14 Q25.2,20.5 21,21.6"/><rect x="5" y="18.6" width="16.2" height="3.4" rx="1.5"/></g>
<g transform="translate(213,1023.3)" stroke="#b3a6e6" stroke-width="1" fill="none"><rect x="4.4" y="0.2" width="17.4" height="18" rx="3.5"/><rect x="0.3" y="2" width="4.1" height="12.5" rx="2"/><rect x="21.8" y="2" width="4.1" height="12.5" rx="2"/><path d="M0.6,14 Q1,20.5 5.2,21.6 M25.6,14 Q25.2,20.5 21,21.6"/><rect x="5" y="18.6" width="16.2" height="3.4" rx="1.5"/></g>
<g transform="translate(275,1023.3)" stroke="#b3a6e6" stroke-width="1" fill="none"><rect x="4.4" y="0.2" width="17.4" height="18" rx="3.5"/><rect x="0.3" y="2" width="4.1" height="12.5" rx="2"/><rect x="21.8" y="2" width="4.1" height="12.5" rx="2"/><path d="M0.6,14 Q1,20.5 5.2,21.6 M25.6,14 Q25.2,20.5 21,21.6"/><rect x="5" y="18.6" width="16.2" height="3.4" rx="1.5"/></g>
<g transform="translate(303.6,1023.3)" stroke="#b3a6e6" stroke-width="1" fill="none"><rect x="4.4" y="0.2" width="17.4" height="18" rx="3.5"/><rect x="0.3" y="2" width="4.1" height="12.5" rx="2"/><rect x="21.8" y="2" width="4.1" height="12.5" rx="2"/><path d="M0.6,14 Q1,20.5 5.2,21.6 M25.6,14 Q25.2,20.5 21,21.6"/><rect x="5" y="18.6" width="16.2" height="3.4" rx="1.5"/></g>
<g transform="translate(335.1,1023.3)" stroke="#b3a6e6" stroke-width="1" fill="none"><rect x="4.4" y="0.2" width="17.4" height="18" rx="3.5"/><rect x="0.3" y="2" width="4.1" height="12.5" rx="2"/><rect x="21.8" y="2" width="4.1" height="12.5" rx="2"/><path d="M0.6,14 Q1,20.5 5.2,21.6 M25.6,14 Q25.2,20.5 21,21.6"/><rect x="5" y="18.6" width="16.2" height="3.4" rx="1.5"/></g>
<g transform="translate(364,1023.3)" stroke="#b3a6e6" stroke-width="1" fill="none"><rect x="4.4" y="0.2" width="17.4" height="18" rx="3.5"/><rect x="0.3" y="2" width="4.1" height="12.5" rx="2"/><rect x="21.8" y="2" width="4.1" height="12.5" rx="2"/><path d="M0.6,14 Q1,20.5 5.2,21.6 M25.6,14 Q25.2,20.5 21,21.6"/><rect x="5" y="18.6" width="16.2" height="3.4" rx="1.5"/></g>
<g transform="translate(426.6,1023.3)" stroke="#b3a6e6" stroke-width="1" fill="none"><rect x="4.4" y="0.2" width="17.4" height="18" rx="3.5"/><rect x="0.3" y="2" width="4.1" height="12.5" rx="2"/><rect x="21.8" y="2" width="4.1" height="12.5" rx="2"/><path d="M0.6,14 Q1,20.5 5.2,21.6 M25.6,14 Q25.2,20.5 21,21.6"/><rect x="5" y="18.6" width="16.2" height="3.4" rx="1.5"/></g>
<g transform="translate(455.1,1023.3)" stroke="#b3a6e6" stroke-width="1" fill="none"><rect x="4.4" y="0.2" width="17.4" height="18" rx="3.5"/><rect x="0.3" y="2" width="4.1" height="12.5" rx="2"/><rect x="21.8" y="2" width="4.1" height="12.5" rx="2"/><path d="M0.6,14 Q1,20.5 5.2,21.6 M25.6,14 Q25.2,20.5 21,21.6"/><rect x="5" y="18.6" width="16.2" height="3.4" rx="1.5"/></g>
<path d="M157.6,1006 H220.5 M157.6,1001 V1011 M220.5,1001 V1011" stroke="#d8283c" stroke-width="1.1" fill="none"/>
<path d="M244.8,989.3 V1018.6 M240,991 H250 M240,1017 H250" stroke="#d8283c" stroke-width="1.1" fill="none"/>
<path d="M250.7,1006 H371.2 M250.7,1001 V1011 M371.2,1001 V1011" stroke="#d8283c" stroke-width="1.1" fill="none"/>
<path d="M401.4,1006 H463.5 M401.4,1001 V1011 M463.5,1001 V1011" stroke="#d8283c" stroke-width="1.1" fill="none"/>
<path d="M243.2,1039.6 H274.2 M243.2,1035 V1044 M274.2,1035 V1044" stroke="#d8283c" stroke-width="1.1" fill="none"/>
<path d="M392.2,1039.6 H424.9 M392.2,1035 V1044 M424.9,1035 V1044" stroke="#d8283c" stroke-width="1.1" fill="none"/>
<path d="M244.8,1048 V1080 M240,1050 H250" stroke="#d8283c" stroke-width="1.1" fill="none"/>
<text x="189.6" y="1003" font-size="12" fill="#fff" text-anchor="middle" font-weight="bold" >1260</text>
<text x="311.1" y="1003" font-size="12" fill="#fff" text-anchor="middle" font-weight="bold" >2400</text>
<text x="432.5" y="1003" font-size="12" fill="#fff" text-anchor="middle" font-weight="bold" >1260</text>
<text x="257.8" y="1037.2" font-size="12" fill="#fff" text-anchor="middle" font-weight="bold" >660</text>
<text x="409" y="1037.2" font-size="12" fill="#fff" text-anchor="middle" font-weight="bold" >660</text>
<text x="0" y="0" font-size="12" font-weight="bold" fill="#fff" text-anchor="middle" transform="translate(240.6,1004.3) rotate(-90)">500</text>
<text x="0" y="0" font-size="12" font-weight="bold" fill="#fff" text-anchor="middle" transform="translate(240.6,1062.6) rotate(-90)">500</text>
<defs>
<linearGradient id="cam" x1="0" y1="0" x2="0" y2="1"><stop offset="0" stop-color="#3a6cf4"/><stop offset=".55" stop-color="#4a4ee8"/><stop offset="1" stop-color="#7a2ee0"/></linearGradient>
<radialGradient id="sg" cx=".5" cy=".5" r=".62"><stop offset="0" stop-color="#1c3c56"/><stop offset=".6" stop-color="#22704e"/><stop offset="1" stop-color="#30a85c"/></radialGradient>
<radialGradient id="sb" cx=".5" cy=".5" r=".62"><stop offset="0" stop-color="#1d3c8e"/><stop offset=".6" stop-color="#2878c4"/><stop offset="1" stop-color="#3cb8ee"/></radialGradient>
</defs>
<rect x="608.5" y="863.8" width="21" height="125.5" rx="4" fill="url(#cam)"/>
<text x="619.0" y="908.3" font-size="16" fill="#fff" text-anchor="middle" font-weight="normal" stroke="#fff" stroke-width="0.45">镜</text>
<text x="619.0" y="932.3" font-size="16" fill="#fff" text-anchor="middle" font-weight="normal" stroke="#fff" stroke-width="0.45">头</text>
<text x="619.0" y="956.3" font-size="16" fill="#fff" text-anchor="middle" font-weight="normal" stroke="#fff" stroke-width="0.45">五</text>
<rect x="1003.9" y="863.8" width="21" height="125.5" rx="4" fill="url(#cam)"/>
<text x="1014.4" y="908.3" font-size="16" fill="#fff" text-anchor="middle" font-weight="normal" stroke="#fff" stroke-width="0.45">镜</text>
<text x="1014.4" y="932.3" font-size="16" fill="#fff" text-anchor="middle" font-weight="normal" stroke="#fff" stroke-width="0.45">头</text>
<text x="1014.4" y="956.3" font-size="16" fill="#fff" text-anchor="middle" font-weight="normal" stroke="#fff" stroke-width="0.45">六</text>
<rect x="641" y="864.6" width="168" height="122.5" rx="6" fill="none" stroke="#8a72d8" stroke-width="1.3"/>
<rect x="823.3" y="864.6" width="168" height="122.5" rx="6" fill="none" stroke="#8a72d8" stroke-width="1.3"/>
<rect x="654.1" y="877.1999999999999" width="28.7" height="28.7" rx="6.5" fill="#150d45" opacity=".85"/>
<rect x="655.7" y="878.8" width="25.5" height="25.5" rx="5" fill="url(#sg)" stroke="#4cc874" stroke-width="1.2"/>
<text x="668.45" y="897.0999999999999" font-size="16.5" fill="#fff" text-anchor="middle" font-weight="normal" stroke="#102838" stroke-width="1.6" paint-order="stroke fill" stroke-opacity=".55">41</text>
<rect x="836.1" y="877.1999999999999" width="28.7" height="28.7" rx="6.5" fill="#150d45" opacity=".85"/>
<rect x="837.7" y="878.8" width="25.5" height="25.5" rx="5" fill="url(#sg)" stroke="#4cc874" stroke-width="1.2"/>
<text x="850.45" y="897.0999999999999" font-size="16.5" fill="#fff" text-anchor="middle" font-weight="normal" stroke="#102838" stroke-width="1.6" paint-order="stroke fill" stroke-opacity=".55">45</text>
<rect x="688.5" y="877.1999999999999" width="28.7" height="28.7" rx="6.5" fill="#150d45" opacity=".85"/>
<rect x="690.1" y="878.8" width="25.5" height="25.5" rx="5" fill="url(#sg)" stroke="#4cc874" stroke-width="1.2"/>
<text x="702.85" y="897.0999999999999" font-size="16.5" fill="#fff" text-anchor="middle" font-weight="normal" stroke="#102838" stroke-width="1.6" paint-order="stroke fill" stroke-opacity=".55">42</text>
<rect x="870.5" y="877.1999999999999" width="28.7" height="28.7" rx="6.5" fill="#150d45" opacity=".85"/>
<rect x="872.1" y="878.8" width="25.5" height="25.5" rx="5" fill="url(#sg)" stroke="#4cc874" stroke-width="1.2"/>
<text x="884.85" y="897.0999999999999" font-size="16.5" fill="#fff" text-anchor="middle" font-weight="normal" stroke="#102838" stroke-width="1.6" paint-order="stroke fill" stroke-opacity=".55">46</text>
<rect x="731.8" y="877.1999999999999" width="28.7" height="28.7" rx="6.5" fill="#150d45" opacity=".85"/>
<rect x="733.4" y="878.8" width="25.5" height="25.5" rx="5" fill="url(#sg)" stroke="#4cc874" stroke-width="1.2"/>
<text x="746.15" y="897.0999999999999" font-size="16.5" fill="#fff" text-anchor="middle" font-weight="normal" stroke="#102838" stroke-width="1.6" paint-order="stroke fill" stroke-opacity=".55">43</text>
<rect x="913.9" y="877.1999999999999" width="28.7" height="28.7" rx="6.5" fill="#150d45" opacity=".85"/>
<rect x="915.5" y="878.8" width="25.5" height="25.5" rx="5" fill="url(#sg)" stroke="#4cc874" stroke-width="1.2"/>
<text x="928.25" y="897.0999999999999" font-size="16.5" fill="#fff" text-anchor="middle" font-weight="normal" stroke="#102838" stroke-width="1.6" paint-order="stroke fill" stroke-opacity=".55">47</text>
<rect x="766.1999999999999" y="877.1999999999999" width="28.7" height="28.7" rx="6.5" fill="#150d45" opacity=".85"/>
<rect x="767.8" y="878.8" width="25.5" height="25.5" rx="5" fill="url(#sb)" stroke="#6cd4ff" stroke-width="1.2"/>
<text x="780.55" y="897.0999999999999" font-size="16.5" fill="#fff" text-anchor="middle" font-weight="normal" stroke="#102838" stroke-width="1.6" paint-order="stroke fill" stroke-opacity=".55">44</text>
<rect x="948.9" y="877.1999999999999" width="28.7" height="28.7" rx="6.5" fill="#150d45" opacity=".85"/>
<rect x="950.5" y="878.8" width="25.5" height="25.5" rx="5" fill="url(#sb)" stroke="#6cd4ff" stroke-width="1.2"/>
<text x="963.25" y="897.0999999999999" font-size="16.5" fill="#fff" text-anchor="middle" font-weight="normal" stroke="#102838" stroke-width="1.6" paint-order="stroke fill" stroke-opacity=".55">48</text>
<rect x="655.7" y="911.8" width="61.3" height="7" rx="3" fill="#3a1f82" stroke="#9a82e2" stroke-width="1.3"/>
<rect x="732.5" y="911.8" width="61.8" height="7" rx="3" fill="#3a1f82" stroke="#9a82e2" stroke-width="1.3"/>
<rect x="837.7" y="911.8" width="61.9" height="7" rx="3" fill="#3a1f82" stroke="#9a82e2" stroke-width="1.3"/>
<rect x="915.1" y="911.8" width="61.9" height="7" rx="3" fill="#3a1f82" stroke="#9a82e2" stroke-width="1.3"/>
<rect x="654.1" y="936.5" width="28.7" height="28.7" rx="6.5" fill="#150d45" opacity=".85"/>
<rect x="655.7" y="938.1" width="25.5" height="25.5" rx="5" fill="url(#sg)" stroke="#4cc874" stroke-width="1.2"/>
<text x="668.45" y="956.4" font-size="16.5" fill="#fff" text-anchor="middle" font-weight="normal" stroke="#102838" stroke-width="1.6" paint-order="stroke fill" stroke-opacity=".55">33</text>
<rect x="836.1" y="936.5" width="28.7" height="28.7" rx="6.5" fill="#150d45" opacity=".85"/>
<rect x="837.7" y="938.1" width="25.5" height="25.5" rx="5" fill="url(#sg)" stroke="#4cc874" stroke-width="1.2"/>
<text x="850.45" y="956.4" font-size="16.5" fill="#fff" text-anchor="middle" font-weight="normal" stroke="#102838" stroke-width="1.6" paint-order="stroke fill" stroke-opacity=".55">37</text>
<rect x="688.5" y="936.5" width="28.7" height="28.7" rx="6.5" fill="#150d45" opacity=".85"/>
<rect x="690.1" y="938.1" width="25.5" height="25.5" rx="5" fill="url(#sg)" stroke="#4cc874" stroke-width="1.2"/>
<text x="702.85" y="956.4" font-size="16.5" fill="#fff" text-anchor="middle" font-weight="normal" stroke="#102838" stroke-width="1.6" paint-order="stroke fill" stroke-opacity=".55">34</text>
<rect x="870.5" y="936.5" width="28.7" height="28.7" rx="6.5" fill="#150d45" opacity=".85"/>
<rect x="872.1" y="938.1" width="25.5" height="25.5" rx="5" fill="url(#sg)" stroke="#4cc874" stroke-width="1.2"/>
<text x="884.85" y="956.4" font-size="16.5" fill="#fff" text-anchor="middle" font-weight="normal" stroke="#102838" stroke-width="1.6" paint-order="stroke fill" stroke-opacity=".55">38</text>
<rect x="731.8" y="936.5" width="28.7" height="28.7" rx="6.5" fill="#150d45" opacity=".85"/>
<rect x="733.4" y="938.1" width="25.5" height="25.5" rx="5" fill="url(#sg)" stroke="#4cc874" stroke-width="1.2"/>
<text x="746.15" y="956.4" font-size="16.5" fill="#fff" text-anchor="middle" font-weight="normal" stroke="#102838" stroke-width="1.6" paint-order="stroke fill" stroke-opacity=".55">35</text>
<rect x="913.9" y="936.5" width="28.7" height="28.7" rx="6.5" fill="#150d45" opacity=".85"/>
<rect x="915.5" y="938.1" width="25.5" height="25.5" rx="5" fill="url(#sg)" stroke="#4cc874" stroke-width="1.2"/>
<text x="928.25" y="956.4" font-size="16.5" fill="#fff" text-anchor="middle" font-weight="normal" stroke="#102838" stroke-width="1.6" paint-order="stroke fill" stroke-opacity=".55">39</text>
<rect x="766.1999999999999" y="936.5" width="28.7" height="28.7" rx="6.5" fill="#150d45" opacity=".85"/>
<rect x="767.8" y="938.1" width="25.5" height="25.5" rx="5" fill="url(#sg)" stroke="#4cc874" stroke-width="1.2"/>
<text x="780.55" y="956.4" font-size="16.5" fill="#fff" text-anchor="middle" font-weight="normal" stroke="#102838" stroke-width="1.6" paint-order="stroke fill" stroke-opacity=".55">36</text>
<rect x="948.9" y="936.5" width="28.7" height="28.7" rx="6.5" fill="#150d45" opacity=".85"/>
<rect x="950.5" y="938.1" width="25.5" height="25.5" rx="5" fill="url(#sg)" stroke="#4cc874" stroke-width="1.2"/>
<text x="963.25" y="956.4" font-size="16.5" fill="#fff" text-anchor="middle" font-weight="normal" stroke="#102838" stroke-width="1.6" paint-order="stroke fill" stroke-opacity=".55">40</text>
<rect x="655.7" y="971.1" width="61.3" height="7" rx="3" fill="#3a1f82" stroke="#9a82e2" stroke-width="1.3"/>
<rect x="732.5" y="971.1" width="61.8" height="7" rx="3" fill="#3a1f82" stroke="#9a82e2" stroke-width="1.3"/>
<rect x="837.7" y="971.1" width="61.9" height="7" rx="3" fill="#3a1f82" stroke="#9a82e2" stroke-width="1.3"/>
<rect x="915.1" y="971.1" width="61.9" height="7" rx="3" fill="#3a1f82" stroke="#9a82e2" stroke-width="1.3"/>
<rect x="608.5" y="1002.8" width="21" height="125.5" rx="4" fill="url(#cam)"/>
<text x="619.0" y="1047.3" font-size="16" fill="#fff" text-anchor="middle" font-weight="normal" stroke="#fff" stroke-width="0.45">镜</text>
<text x="619.0" y="1071.3" font-size="16" fill="#fff" text-anchor="middle" font-weight="normal" stroke="#fff" stroke-width="0.45">头</text>
<text x="619.0" y="1095.3" font-size="16" fill="#fff" text-anchor="middle" font-weight="normal" stroke="#fff" stroke-width="0.45">三</text>
<rect x="1003.9" y="1002.8" width="21" height="125.5" rx="4" fill="url(#cam)"/>
<text x="1014.4" y="1047.3" font-size="16" fill="#fff" text-anchor="middle" font-weight="normal" stroke="#fff" stroke-width="0.45">镜</text>
<text x="1014.4" y="1071.3" font-size="16" fill="#fff" text-anchor="middle" font-weight="normal" stroke="#fff" stroke-width="0.45">头</text>
<text x="1014.4" y="1095.3" font-size="16" fill="#fff" text-anchor="middle" font-weight="normal" stroke="#fff" stroke-width="0.45">四</text>
<rect x="641" y="1003.6" width="168" height="122.5" rx="6" fill="none" stroke="#8a72d8" stroke-width="1.3"/>
<rect x="823.3" y="1003.6" width="168" height="122.5" rx="6" fill="none" stroke="#8a72d8" stroke-width="1.3"/>
<rect x="654.1" y="1016.1999999999999" width="28.7" height="28.7" rx="6.5" fill="#150d45" opacity=".85"/>
<rect x="655.7" y="1017.8" width="25.5" height="25.5" rx="5" fill="url(#sg)" stroke="#4cc874" stroke-width="1.2"/>
<text x="668.45" y="1036.1" font-size="16.5" fill="#fff" text-anchor="middle" font-weight="normal" stroke="#102838" stroke-width="1.6" paint-order="stroke fill" stroke-opacity=".55">25</text>
<rect x="836.1" y="1016.1999999999999" width="28.7" height="28.7" rx="6.5" fill="#150d45" opacity=".85"/>
<rect x="837.7" y="1017.8" width="25.5" height="25.5" rx="5" fill="url(#sg)" stroke="#4cc874" stroke-width="1.2"/>
<text x="850.45" y="1036.1" font-size="16.5" fill="#fff" text-anchor="middle" font-weight="normal" stroke="#102838" stroke-width="1.6" paint-order="stroke fill" stroke-opacity=".55">29</text>
<rect x="688.5" y="1016.1999999999999" width="28.7" height="28.7" rx="6.5" fill="#150d45" opacity=".85"/>
<rect x="690.1" y="1017.8" width="25.5" height="25.5" rx="5" fill="url(#sg)" stroke="#4cc874" stroke-width="1.2"/>
<text x="702.85" y="1036.1" font-size="16.5" fill="#fff" text-anchor="middle" font-weight="normal" stroke="#102838" stroke-width="1.6" paint-order="stroke fill" stroke-opacity=".55">26</text>
<rect x="870.5" y="1016.1999999999999" width="28.7" height="28.7" rx="6.5" fill="#150d45" opacity=".85"/>
<rect x="872.1" y="1017.8" width="25.5" height="25.5" rx="5" fill="url(#sg)" stroke="#4cc874" stroke-width="1.2"/>
<text x="884.85" y="1036.1" font-size="16.5" fill="#fff" text-anchor="middle" font-weight="normal" stroke="#102838" stroke-width="1.6" paint-order="stroke fill" stroke-opacity=".55">30</text>
<rect x="731.8" y="1016.1999999999999" width="28.7" height="28.7" rx="6.5" fill="#150d45" opacity=".85"/>
<rect x="733.4" y="1017.8" width="25.5" height="25.5" rx="5" fill="url(#sg)" stroke="#4cc874" stroke-width="1.2"/>
<text x="746.15" y="1036.1" font-size="16.5" fill="#fff" text-anchor="middle" font-weight="normal" stroke="#102838" stroke-width="1.6" paint-order="stroke fill" stroke-opacity=".55">27</text>
<rect x="913.9" y="1016.1999999999999" width="28.7" height="28.7" rx="6.5" fill="#150d45" opacity=".85"/>
<rect x="915.5" y="1017.8" width="25.5" height="25.5" rx="5" fill="url(#sg)" stroke="#4cc874" stroke-width="1.2"/>
<text x="928.25" y="1036.1" font-size="16.5" fill="#fff" text-anchor="middle" font-weight="normal" stroke="#102838" stroke-width="1.6" paint-order="stroke fill" stroke-opacity=".55">31</text>
<rect x="766.1999999999999" y="1016.1999999999999" width="28.7" height="28.7" rx="6.5" fill="#150d45" opacity=".85"/>
<rect x="767.8" y="1017.8" width="25.5" height="25.5" rx="5" fill="url(#sb)" stroke="#6cd4ff" stroke-width="1.2"/>
<text x="780.55" y="1036.1" font-size="16.5" fill="#fff" text-anchor="middle" font-weight="normal" stroke="#102838" stroke-width="1.6" paint-order="stroke fill" stroke-opacity=".55">28</text>
<rect x="948.9" y="1016.1999999999999" width="28.7" height="28.7" rx="6.5" fill="#150d45" opacity=".85"/>
<rect x="950.5" y="1017.8" width="25.5" height="25.5" rx="5" fill="url(#sb)" stroke="#6cd4ff" stroke-width="1.2"/>
<text x="963.25" y="1036.1" font-size="16.5" fill="#fff" text-anchor="middle" font-weight="normal" stroke="#102838" stroke-width="1.6" paint-order="stroke fill" stroke-opacity=".55">32</text>
<rect x="655.7" y="1050.8" width="61.3" height="7" rx="3" fill="#3a1f82" stroke="#9a82e2" stroke-width="1.3"/>
<rect x="732.5" y="1050.8" width="61.8" height="7" rx="3" fill="#3a1f82" stroke="#9a82e2" stroke-width="1.3"/>
<rect x="837.7" y="1050.8" width="61.9" height="7" rx="3" fill="#3a1f82" stroke="#9a82e2" stroke-width="1.3"/>
<rect x="915.1" y="1050.8" width="61.9" height="7" rx="3" fill="#3a1f82" stroke="#9a82e2" stroke-width="1.3"/>
<rect x="654.1" y="1075.5" width="28.7" height="28.7" rx="6.5" fill="#150d45" opacity=".85"/>
<rect x="655.7" y="1077.1" width="25.5" height="25.5" rx="5" fill="url(#sg)" stroke="#4cc874" stroke-width="1.2"/>
<text x="668.45" y="1095.3999999999999" font-size="16.5" fill="#fff" text-anchor="middle" font-weight="normal" stroke="#102838" stroke-width="1.6" paint-order="stroke fill" stroke-opacity=".55">17</text>
<rect x="836.1" y="1075.5" width="28.7" height="28.7" rx="6.5" fill="#150d45" opacity=".85"/>
<rect x="837.7" y="1077.1" width="25.5" height="25.5" rx="5" fill="url(#sg)" stroke="#4cc874" stroke-width="1.2"/>
<text x="850.45" y="1095.3999999999999" font-size="16.5" fill="#fff" text-anchor="middle" font-weight="normal" stroke="#102838" stroke-width="1.6" paint-order="stroke fill" stroke-opacity=".55">21</text>
<rect x="688.5" y="1075.5" width="28.7" height="28.7" rx="6.5" fill="#150d45" opacity=".85"/>
<rect x="690.1" y="1077.1" width="25.5" height="25.5" rx="5" fill="url(#sg)" stroke="#4cc874" stroke-width="1.2"/>
<text x="702.85" y="1095.3999999999999" font-size="16.5" fill="#fff" text-anchor="middle" font-weight="normal" stroke="#102838" stroke-width="1.6" paint-order="stroke fill" stroke-opacity=".55">18</text>
<rect x="870.5" y="1075.5" width="28.7" height="28.7" rx="6.5" fill="#150d45" opacity=".85"/>
<rect x="872.1" y="1077.1" width="25.5" height="25.5" rx="5" fill="url(#sg)" stroke="#4cc874" stroke-width="1.2"/>
<text x="884.85" y="1095.3999999999999" font-size="16.5" fill="#fff" text-anchor="middle" font-weight="normal" stroke="#102838" stroke-width="1.6" paint-order="stroke fill" stroke-opacity=".55">22</text>
<rect x="731.8" y="1075.5" width="28.7" height="28.7" rx="6.5" fill="#150d45" opacity=".85"/>
<rect x="733.4" y="1077.1" width="25.5" height="25.5" rx="5" fill="url(#sg)" stroke="#4cc874" stroke-width="1.2"/>
<text x="746.15" y="1095.3999999999999" font-size="16.5" fill="#fff" text-anchor="middle" font-weight="normal" stroke="#102838" stroke-width="1.6" paint-order="stroke fill" stroke-opacity=".55">19</text>
<rect x="913.9" y="1075.5" width="28.7" height="28.7" rx="6.5" fill="#150d45" opacity=".85"/>
<rect x="915.5" y="1077.1" width="25.5" height="25.5" rx="5" fill="url(#sg)" stroke="#4cc874" stroke-width="1.2"/>
<text x="928.25" y="1095.3999999999999" font-size="16.5" fill="#fff" text-anchor="middle" font-weight="normal" stroke="#102838" stroke-width="1.6" paint-order="stroke fill" stroke-opacity=".55">23</text>
<rect x="766.1999999999999" y="1075.5" width="28.7" height="28.7" rx="6.5" fill="#150d45" opacity=".85"/>
<rect x="767.8" y="1077.1" width="25.5" height="25.5" rx="5" fill="url(#sg)" stroke="#4cc874" stroke-width="1.2"/>
<text x="780.55" y="1095.3999999999999" font-size="16.5" fill="#fff" text-anchor="middle" font-weight="normal" stroke="#102838" stroke-width="1.6" paint-order="stroke fill" stroke-opacity=".55">20</text>
<rect x="948.9" y="1075.5" width="28.7" height="28.7" rx="6.5" fill="#150d45" opacity=".85"/>
<rect x="950.5" y="1077.1" width="25.5" height="25.5" rx="5" fill="url(#sg)" stroke="#4cc874" stroke-width="1.2"/>
<text x="963.25" y="1095.3999999999999" font-size="16.5" fill="#fff" text-anchor="middle" font-weight="normal" stroke="#102838" stroke-width="1.6" paint-order="stroke fill" stroke-opacity=".55">24</text>
<rect x="655.7" y="1110.1" width="61.3" height="7" rx="3" fill="#3a1f82" stroke="#9a82e2" stroke-width="1.3"/>
<rect x="732.5" y="1110.1" width="61.8" height="7" rx="3" fill="#3a1f82" stroke="#9a82e2" stroke-width="1.3"/>
<rect x="837.7" y="1110.1" width="61.9" height="7" rx="3" fill="#3a1f82" stroke="#9a82e2" stroke-width="1.3"/>
<rect x="915.1" y="1110.1" width="61.9" height="7" rx="3" fill="#3a1f82" stroke="#9a82e2" stroke-width="1.3"/>
</svg>
</body></html>
